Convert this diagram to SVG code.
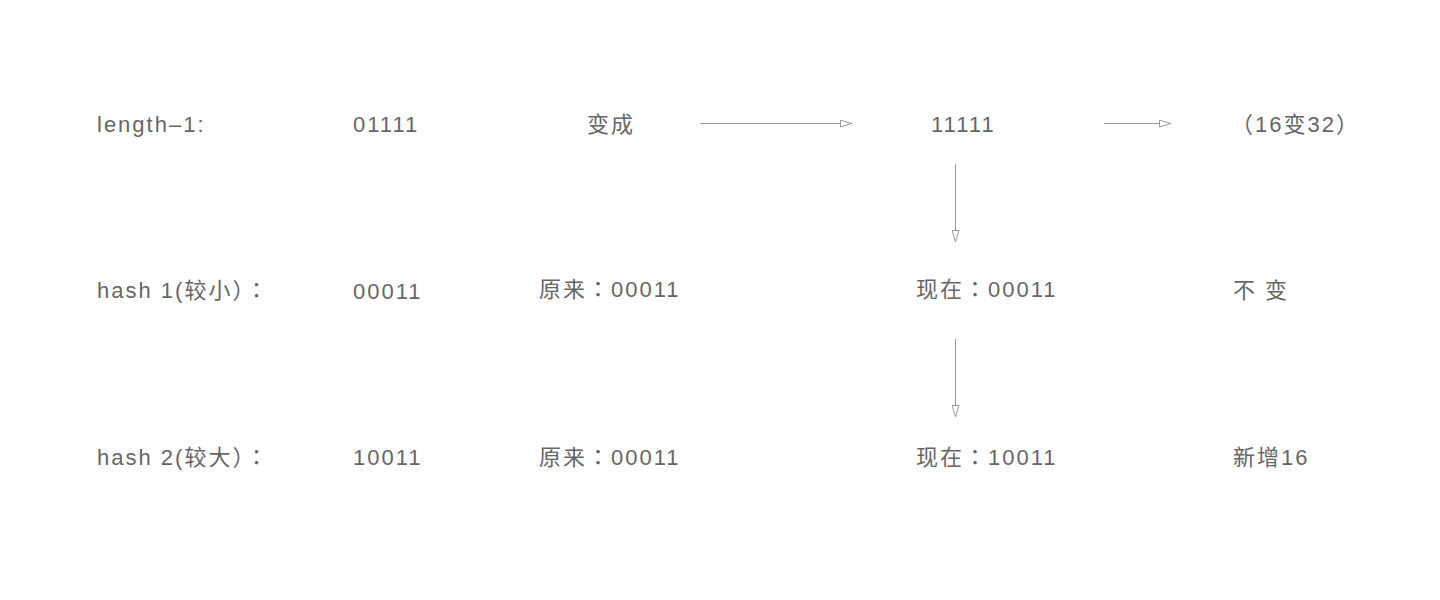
<svg xmlns="http://www.w3.org/2000/svg" width="1440" height="600" viewBox="0 0 1440 600">
<style>
text{font-family:"Liberation Sans","Noto Sans CJK SC",sans-serif;font-size:22px;fill:#666;letter-spacing:2px;}
.p{font-family:"Noto Sans CJK JP",sans-serif;}
.c{stroke:#999;stroke-width:1;fill:none;}
</style>
<defs>
<marker id="ah" viewBox="0 0 12 8" refX="12" refY="4" markerWidth="12" markerHeight="8" markerUnits="userSpaceOnUse" orient="auto">
<path d="M0.5,0.5 L11.5,4 L0.5,7.5 Z" fill="#fff" stroke="#999" stroke-width="1"/>
</marker>
</defs>
<rect width="1440" height="600" fill="#fff"/>
<g id="connectors">
<line class="c" x1="700" y1="123.5" x2="852" y2="123.5" marker-end="url(#ah)"/>
<line class="c" x1="1104" y1="123.5" x2="1171" y2="123.5" marker-end="url(#ah)"/>
<line class="c" x1="955.5" y1="164" x2="955.5" y2="242" marker-end="url(#ah)"/>
<line class="c" x1="955.5" y1="339" x2="955.5" y2="417" marker-end="url(#ah)"/>
</g>
<g id="r1-label"><text x="97" y="132">length–1:</text></g>
<g id="r1-val"><text x="353" y="132">01111</text></g>
<g id="r1-change"><text x="587" y="132">变成</text></g>
<g id="r1-new"><text x="931" y="132">11111</text></g>
<g id="r1-note"><text x="1231" y="132">（16变32）</text></g>
<g id="r2-label"><text x="97" y="298">hash 1(较小）<tspan class="p">：</tspan></text></g>
<g id="r2-val"><text x="353" y="299">00011</text></g>
<g id="r2-old"><text x="539" y="297">原来<tspan class="p">：</tspan>00011</text></g>
<g id="r2-now"><text x="916" y="297">现在<tspan class="p">：</tspan>00011</text></g>
<g id="r2-note"><text x="1233" y="298">不 变</text></g>
<g id="r3-label"><text x="97" y="465">hash 2(较大）<tspan class="p">：</tspan></text></g>
<g id="r3-val"><text x="353" y="465">10011</text></g>
<g id="r3-old"><text x="539" y="465">原来<tspan class="p">：</tspan>00011</text></g>
<g id="r3-now"><text x="916" y="465">现在<tspan class="p">：</tspan>10011</text></g>
<g id="r3-note"><text x="1233" y="465">新增16</text></g>
</svg>
